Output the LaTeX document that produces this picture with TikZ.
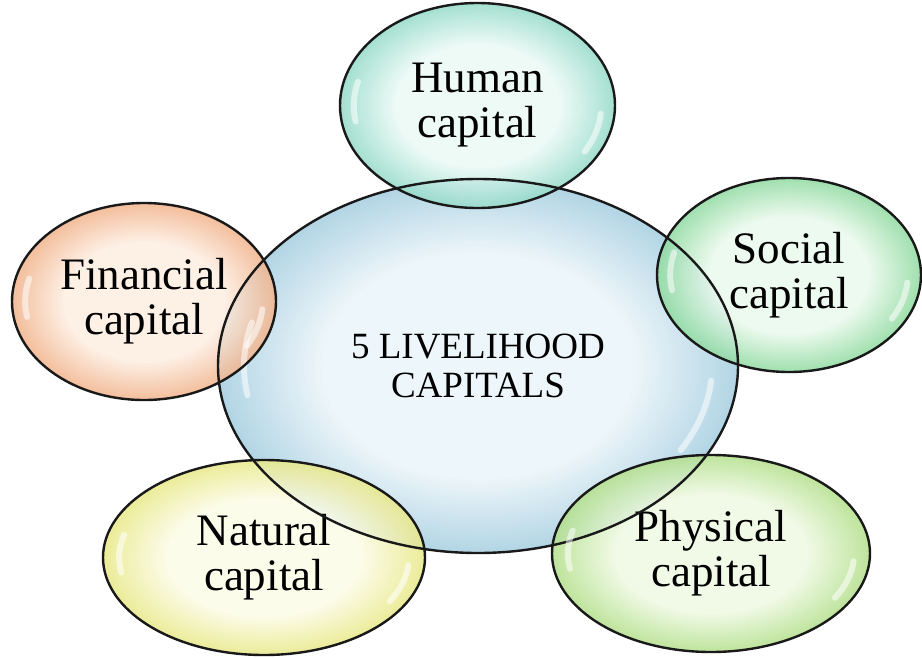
\documentclass[tikz,border=0pt]{standalone}
\usepackage{fontspec}
\setmainfont{Liberation Serif}
\usetikzlibrary{shapes.geometric,calc}

\definecolor{hubin}{RGB}{234,244,249}
\definecolor{hubout}{RGB}{100,170,200}
\definecolor{humanin}{RGB}{234,249,245}
\definecolor{humanout}{RGB}{70,190,160}
\definecolor{socialin}{RGB}{234,249,236}
\definecolor{socialout}{RGB}{60,190,90}
\definecolor{financialin}{RGB}{253,238,226}
\definecolor{financialout}{RGB}{230,125,60}
\definecolor{naturalin}{RGB}{251,251,230}
\definecolor{naturalout}{RGB}{215,215,50}
\definecolor{physicalin}{RGB}{238,249,226}
\definecolor{physicalout}{RGB}{125,200,60}

\colorlet{bubin}{white}
\colorlet{bubout}{white}
\pgfdeclareradialshading[bubin,bubout]{bubble}{\pgfpointorigin}%
  {color(0bp)=(bubin); color(15bp)=(bubin); color(34bp)=(bubout); color(50bp)=(bubout)}

\begin{document}
\begin{tikzpicture}[x=1pt, y=-1pt,
  capital/.style 2 args = {shape=ellipse, inner sep=0pt, outer sep=0pt,
    align=center, shade, shading=bubble,
    /utils/exec={\colorlet{bubin}{#1}\colorlet{bubout}{#2}},
    fill opacity=0.85, text opacity=1,
    font=\fontsize{45}{45}\selectfont},
  rim/.style = {draw=black!90, line width=2.4pt},
  gloss/.style = {draw=white, line width=6pt, line cap=round, opacity=0.55}]
  \useasboundingbox (0,0) rectangle (922,657);
  \node [capital={hubin}{hubout}, minimum width=520pt, minimum height=374pt,
    font=\fontsize{37}{39}\selectfont] (hub) at (478,366) {5 LIVELIHOOD\\CAPITALS};
  \node [capital={humanin}{humanout}, minimum width=275pt, minimum height=205pt]
    (human) at (477.5,105.5) {Human\\capital};
  \node [capital={socialin}{socialout}, minimum width=264pt, minimum height=194pt]
    (social) at (789,275) {Social\\capital};
  \node [capital={financialin}{financialout}, minimum width=264pt, minimum height=197pt]
    (financial) at (144,301.5) {Financial\\capital};
  \node [capital={naturalin}{naturalout}, minimum width=322pt, minimum height=195pt]
    (natural) at (264,557.5) {Natural\\capital};
  \node [capital={physicalin}{physicalout}, minimum width=318pt, minimum height=197pt]
    (physical) at (711,553.5) {Physical\\capital};
  % rims and highlights on top of all fills
  \foreach \bub in {hub,human,social,financial,natural,physical} {
    \draw [gloss] let \p0=(\bub.center), \p1=(\bub.east), \p2=(\bub.north) in
      (\p0) ++(165:{0.9*(\x1-\x0)} and {0.9*(\y2-\y0)})
      arc [start angle=165, end angle=190, x radius=0.9*(\x1-\x0), y radius=0.9*(\y2-\y0)];
    \draw [gloss] let \p0=(\bub.center), \p1=(\bub.east), \p2=(\bub.north) in
      (\p0) ++(-5:{0.9*(\x1-\x0)} and {0.9*(\y2-\y0)})
      arc [start angle=-5, end angle=-30, x radius=0.9*(\x1-\x0), y radius=0.9*(\y2-\y0)];
    \draw [rim] let \p0=(\bub.center), \p1=(\bub.east), \p2=(\bub.north) in
      (\p0) ellipse [x radius=\x1-\x0, y radius=\y2-\y0];
  }
\end{tikzpicture}
\end{document}
